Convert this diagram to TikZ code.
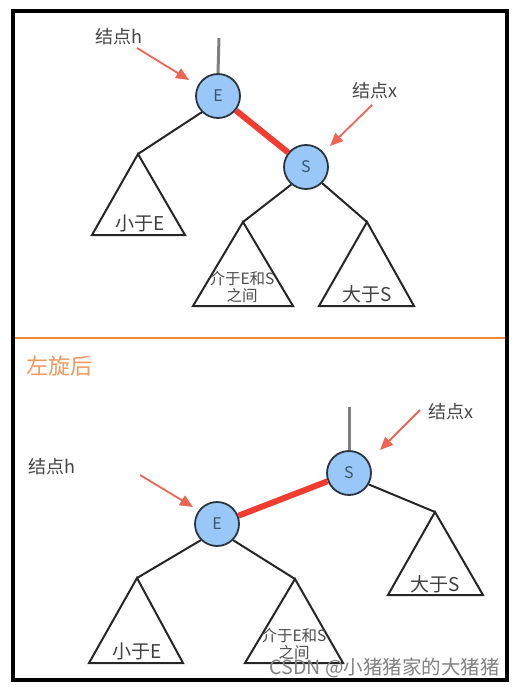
\documentclass[tikz,border=0pt]{standalone}
\usepackage{fontspec}
\setmainfont{Noto Sans CJK SC}
\newfontfamily\cjk{Noto Sans CJK SC}
\usetikzlibrary{arrows.meta}
\definecolor{nodefill}{RGB}{153,200,248}
\definecolor{nodeline}{RGB}{43,53,64}
\definecolor{nodetext}{RGB}{58,85,112}
\definecolor{arrowred}{RGB}{240,100,85}
\definecolor{linkred}{RGB}{242,60,48}
\definecolor{txtgray}{RGB}{70,70,70}
\definecolor{orangeline}{RGB}{240,138,58}
\definecolor{orangetext}{RGB}{245,150,90}
\definecolor{wmgray}{RGB}{130,130,130}
\tikzset{
  treenode/.style={circle,draw=nodeline,fill=nodefill,line width=1.8pt,minimum size=44pt,inner sep=0pt,text=nodetext,font=\cjk\fontsize{16}{16}\selectfont},
  lbl/.style={text=txtgray,font=\cjk\fontsize{18}{18}\selectfont,inner sep=0pt},
  pointer/.style={arrowred,line width=1.8pt,-{Triangle[length=13pt,width=11pt]}},
  link/.style={linkred,line width=6pt},
  branch/.style={draw=black!85,line width=2pt},
  subtree/.style={draw=black!85,line width=2pt,line join=miter},
  parentline/.style={draw=black!50,line width=3pt},
  trilbl/.style={text=black!75,font=\cjk\fontsize{19}{19}\selectfont,inner sep=0pt},
  smalllbl/.style={text=black!70,font=\cjk\fontsize{15.5}{17}\selectfont,inner sep=0pt,align=center},
}
\begin{document}
\begin{tikzpicture}[x=1pt,y=-1pt]
\useasboundingbox (0,0) rectangle (514,687);
\fill[white] (0,0) rectangle (514,687);
% frame
\draw[line width=3.5pt,black] (13,11) rectangle (507,680);
\draw[orangeline,line width=2.5pt] (15,338) -- (505,338);

% ---------- top: before rotation ----------
\node[lbl,anchor=west] (hlblA) at (95,37) {结点h};
\node[lbl,anchor=west] (xlblA) at (352,91) {结点x};
\coordinate (pA) at (219,38);
\node[treenode] (EA) at (218,96) {E};
\node[treenode] (SA) at (306,167) {S};
\draw[parentline] (pA) -- (EA.north);
\draw[link] (EA) -- (SA);
\coordinate (hsA) at (137,48);
\coordinate (htA) at (189,80);
\draw[pointer] (hsA) -- (htA);
\coordinate (xsA) at (372,105);
\coordinate (xtA) at (330,146);
\draw[pointer] (xsA) -- (xtA);
% subtrees
\coordinate (t1A) at (138,154);
\coordinate (t2A) at (243,222);
\coordinate (t3A) at (367,222);
\draw[branch] (EA.-135) -- (t1A);
\draw[branch] (SA.-130) -- (t2A);
\draw[branch] (SA.-45) -- (t3A);
\draw[subtree] (t1A) -- (92,235) -- (185,235) -- cycle;
\draw[subtree] (t2A) -- (193,306) -- (293,306) -- cycle;
\draw[subtree] (t3A) -- (319,306) -- (414,306) -- cycle;
\node[trilbl] (lessA) at (140,223) {小于E};
\node[smalllbl] (midA) at (242,287) {介于E和S\\之间};
\node[trilbl] (moreA) at (367,294) {大于S};

% ---------- bottom: after rotation ----------
\node[anchor=west,inner sep=0pt,text=orangetext,font=\cjk\fontsize{22}{22}\selectfont] (title) at (26,366) {左旋后};
\node[lbl,anchor=west] (hlblB) at (28,467) {结点h};
\node[lbl,anchor=west] (xlblB) at (428,412) {结点x};
\node[treenode] (EB) at (217,524) {E};
\node[treenode] (SB) at (349,473) {S};
\coordinate (pB) at (349,407);
\draw[parentline] (pB) -- (SB.north);
\draw[link] (EB) -- (SB);
\coordinate (hsB) at (140,475);
\coordinate (htB) at (193,507);
\draw[pointer] (hsB) -- (htB);
\coordinate (xsB) at (420,410);
\coordinate (xtB) at (380,450);
\draw[pointer] (xsB) -- (xtB);
\coordinate (t1B) at (137,578);
\coordinate (t2B) at (295,579);
\coordinate (t3B) at (435,512);
\draw[branch] (EB.-135) -- (t1B);
\draw[branch] (EB.-45) -- (t2B);
\draw[branch] (SB.-30) -- (t3B);
\draw[subtree] (t1B) -- (89,663) -- (183,663) -- cycle;
\draw[subtree] (t2B) -- (245,663) -- (343,663) -- cycle;
\draw[subtree] (t3B) -- (388,595) -- (483,595) -- cycle;
\node[trilbl] (lessB) at (137,651) {小于E};
\node[smalllbl] (midB) at (294,644) {介于E和S\\之间};
\node[trilbl] (moreB) at (435,584) {大于S};

% watermark
\node[anchor=east,inner sep=0pt,text=wmgray,font=\cjk\fontsize{19.5}{19.5}\selectfont] (wm) at (500,668) {CSDN @小猪猪家的大猪猪};
\end{tikzpicture}
\end{document}
